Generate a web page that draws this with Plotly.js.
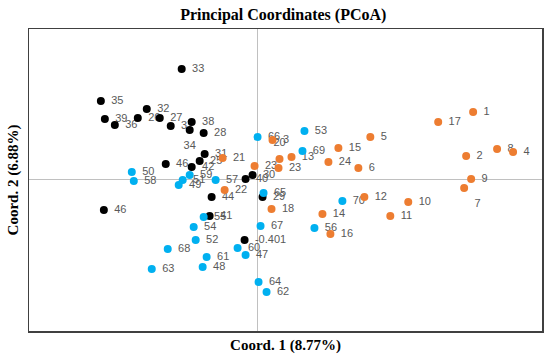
<!DOCTYPE html>
<html>
<head>
<meta charset="utf-8">
<script src="https://cdn.plot.ly/plotly-3.0.1.min.js"></script>
<style>html,body{margin:0;padding:0;background:#fff;}#chart{width:550px;height:361px;}</style>
</head>
<body>
<div id="chart"></div>
<script>
// Group 1 (black)
const blackLabels = ["33","35","32","39","36","26","27","37","38","34","28","31","25","46","42","44","40","30","29","46","41","-0.401"];
const blackX = [-0.152,-0.314,-0.222,-0.306,-0.286,-0.240,-0.196,-0.174,-0.132,-0.136,-0.108,-0.106,-0.116,-0.184,-0.132,-0.092,-0.024,-0.010,0.010,-0.308,-0.096,-0.026];
const blackY = [0.220,0.156,0.140,0.120,0.108,0.122,0.122,0.106,0.114,0.098,0.092,0.050,0.036,0.030,0.024,-0.036,0.000,0.008,-0.036,-0.062,-0.074,-0.122];

// Group 2 (blue)
const blueLabels = ["66","53","69","50","58","59","51","49","57","65","55","54","52","67","68","60","47","61","63","48","64","62","70","56"];
const blueX = [0.000,0.094,0.090,-0.252,-0.248,-0.136,-0.150,-0.158,-0.084,0.012,-0.108,-0.128,-0.124,0.006,-0.180,-0.040,-0.024,-0.102,-0.212,-0.110,0.002,0.018,0.170,0.114];
const blueY = [0.084,0.096,0.056,0.014,-0.004,0.008,-0.002,-0.012,-0.002,-0.028,-0.076,-0.096,-0.122,-0.094,-0.140,-0.138,-0.152,-0.156,-0.180,-0.176,-0.206,-0.226,-0.044,-0.098];

// Group 3 (orange)
const orangeLabels = ["1","2","3","4","5","6","7","8","9","10","11","12","13","14","15","16","17","18","20","21","22","23","23","24"];
const orangeX = [0.432,0.418,0.030,0.512,0.226,0.202,0.414,0.480,0.428,0.302,0.266,0.214,0.068,0.130,0.162,0.146,0.362,0.028,0.044,-0.070,-0.066,-0.006,0.042,0.142];
const orangeY = [0.134,0.046,0.078,0.054,0.084,0.022,-0.018,0.060,0.000,-0.046,-0.074,-0.036,0.044,-0.070,0.062,-0.110,0.114,-0.060,0.040,0.042,-0.022,0.026,0.022,0.034];

const specialPos = {"34":"bottom center","20":"top center","7":"bottom right"};
function positions(labels){ return labels.map(l => specialPos[l] || "middle right"); }

const labelFont = {family:"Liberation Sans, Arial, sans-serif", size:11, color:"#595959"};

function dots(x,y,color){
  return {x:x,y:y,type:"scatter",mode:"markers",
    marker:{color:color,size:8},hoverinfo:"skip",showlegend:false};
}
function labels(x,y,lab){
  // invisible, larger markers so the labels sit a little away from the dots
  return {x:x,y:y,text:lab,type:"scatter",mode:"markers+text",
    textposition:positions(lab),textfont:labelFont,
    marker:{color:"rgba(0,0,0,0)",size:15},hoverinfo:"skip",showlegend:false};
}

const data = [
  labels(blackX,blackY,blackLabels),
  labels(blueX,blueY,blueLabels),
  labels(orangeX,orangeY,orangeLabels),
  dots(blackX,blackY,"#000000"),
  dots(blueX,blueY,"#00B0F0"),
  dots(orangeX,orangeY,"#ED7D31")
];

const axisTitleFont = {family:"Liberation Serif, Times New Roman, serif", size:15, color:"#000000"};

const layout = {
  width:550,height:361,
  margin:{l:29,r:8,t:29,b:30,pad:0},
  paper_bgcolor:"#ffffff",plot_bgcolor:"#ffffff",
  title:{text:"<b>Principal Coordinates (PCoA)</b>",
    font:{family:"Liberation Serif, Times New Roman, serif",size:16,color:"#000000"},
    x:0.515,xanchor:"center",y:0.961,yanchor:"middle",yref:"container"},
  xaxis:{range:[-0.458,0.57],showticklabels:false,ticks:"",showgrid:false,
    zeroline:true,zerolinecolor:"#c0c0c0",zerolinewidth:1,
    showline:true,mirror:true,linecolor:"#404040",linewidth:1.5,
    title:{text:"<b>Coord. 1 (8.77%)</b>",font:axisTitleFont,standoff:8}},
  yaxis:{range:[-0.304,0.3],showticklabels:false,ticks:"",showgrid:false,
    zeroline:true,zerolinecolor:"#c0c0c0",zerolinewidth:1,
    showline:true,mirror:true,linecolor:"#404040",linewidth:1.5,
    title:{text:"<b>Coord. 2 (6.88%)</b>",font:axisTitleFont,standoff:5}}
};

Plotly.newPlot("chart",data,layout,{displayModeBar:false,staticPlot:true});
</script>
</body>
</html>
